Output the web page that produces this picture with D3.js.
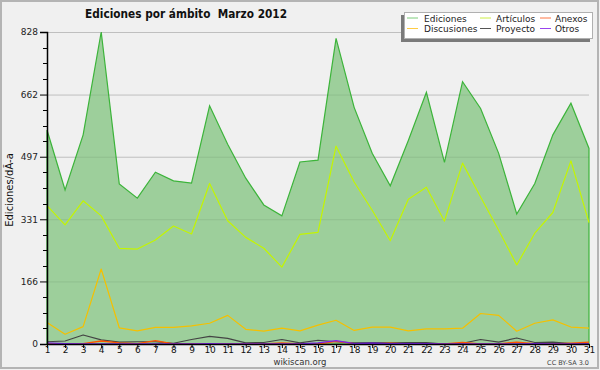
<!DOCTYPE html>
<html><head><meta charset="utf-8">
<script src="https://cdn.jsdelivr.net/npm/d3@7"></script>
<style>html,body{margin:0;padding:0;background:#f0f0f0;}svg{display:block;font-family:"DejaVu Sans",sans-serif;}</style>
</head><body>
<svg id="c" width="600" height="370"></svg>
<script>
const days = d3.range(1, 32);
const ediciones = [568,409,555,828,425,387,456,433,427,632,530,440,369,340,483,488,811,628,506,420,540,668,482,696,625,506,345,426,555,639,519];
const articulos = [367,316,380,340,254,252,276,313,292,426,327,283,254,204,291,296,525,430,355,274,384,416,326,480,390,302,210,294,349,486,322];
const discusiones = [57,26,46,199,43,35,44,44,48,55,76,39,34,42,35,50,63,36,45,45,35,40,40,42,81,76,34,55,64,45,42];
const proyecto = [6,8,24,11,5,6,6,2,12,20,15,3,4,12,3,10,6,3,4,3,4,4,0,2,12,5,16,4,5,1,1];
const anexos = [0,0,1,8,3,1,9,0,0,1,0,0,0,3,0,0,7,1,0,2,0,0,0,4,0,0,5,1,0,2,5];
const otros = [3,1,0,0,0,0,0,0,0,1,0,0,0,0,0,3,9,1,2,1,1,1,0,0,0,0,0,1,0,0,0];
const yTicks = [0,166,331,497,662,828];
const title = "Ediciones por ámbito  Marzo 2012";
const yLabel = "Ediciones/dÃ-a";
const legendNames = ["Ediciones","Artículos","Anexos","Discusiones","Proyecto","Otros"];
const legendColors = ["#7ccc7a","#ccee44","#ff7744","#ffcc44","#555555","#9944ee"];

const svg = d3.select("#c");
svg.append("rect").attr("x",1).attr("y",1).attr("width",597).attr("height",367)
  .attr("fill","#f0f0f0").attr("stroke","#b4b4b4").attr("stroke-width",2);

const x = d3.scaleLinear().domain([1,31]).range([47,589]);
const y = d3.scaleLinear().domain([0,828]).range([344,32]);

// grid
svg.append("g").selectAll("line").data(yTicks.slice(1)).join("line")
  .attr("x1",47).attr("x2",589).attr("y1",d=>y(d)+0.5).attr("y2",d=>y(d)+0.5)
  .attr("stroke","#cacaca").attr("stroke-width",1);

// area
const area = d3.area().x((d,i)=>x(days[i])).y0(y(0)).y1(d=>y(d));
svg.append("path").datum(ediciones).attr("d",area)
  .attr("fill","#8ec98c").attr("fill-opacity",0.85).attr("stroke","#3cb43a").attr("stroke-width",1.2);

// grid over area faint
svg.append("g").selectAll("line").data(yTicks.slice(1)).join("line")
  .attr("x1",47).attr("x2",589).attr("y1",d=>y(d)+0.5).attr("y2",d=>y(d)+0.5)
  .attr("stroke","#000").attr("stroke-opacity",0.05);

const line = d3.line().x((d,i)=>x(days[i])).y(d=>y(d));
const series = [
  [articulos,"#c4f500",1.2],
  [discusiones,"#f5c000",1.2],
  [proyecto,"#444444",1.2],
  [anexos,"#ff5500",1.4],
  [otros,"#7a22ee",1.4]
];
series.forEach(([data,col,w])=>{
  svg.append("path").datum(data).attr("d",line).attr("fill","none")
    .attr("stroke",col).attr("stroke-width",w).attr("stroke-linejoin","round");
});

// axes
const yAxis = d3.axisLeft(y).tickValues(yTicks).tickSize(7).tickPadding(2).tickFormat(d3.format("d"));
const gy = svg.append("g").attr("transform","translate(47,0)").call(yAxis);
const minor = [];
for (let i=0;i<yTicks.length-1;i++){ for(let k=1;k<4;k++){ minor.push(yTicks[i]+(yTicks[i+1]-yTicks[i])*k/4); } }
svg.append("g").selectAll("line").data(minor).join("line")
  .attr("x1",43).attr("x2",47).attr("y1",d=>Math.round(y(d))+0.5).attr("y2",d=>Math.round(y(d))+0.5)
  .attr("stroke","#000");
gy.select(".domain").attr("stroke","#000").attr("stroke-width",1.5);
gy.selectAll(".tick line").attr("stroke","#000");
gy.selectAll(".tick text").attr("font-size",9).attr("fill","#222").attr("font-family","DejaVu Sans");

const xAxis = d3.axisBottom(x).tickValues(days).tickSize(4).tickPadding(1).tickSizeOuter(0).tickFormat(d3.format("d"));
const gx = svg.append("g").attr("transform","translate(0,344)").call(xAxis);
gx.select(".domain").attr("stroke","#000").attr("stroke-width",1.5);
gx.selectAll(".tick line").attr("stroke","#000");
gx.selectAll(".tick text").attr("font-size",9).attr("fill","#111").attr("font-family","DejaVu Sans")
  .attr("y",2.8);

// title
svg.append("text").attr("x",186).attr("y",18).attr("text-anchor","middle")
  .style("white-space","pre").attr("xml:space","preserve")
  .attr("font-size",12.5).attr("font-weight","bold").attr("fill","#111")
  .attr("textLength",202).attr("lengthAdjust","spacingAndGlyphs").text(title);

// y label
svg.append("text").attr("transform","translate(13,190) rotate(-90)").attr("text-anchor","middle")
  .attr("font-size",10).attr("fill","#111").text(yLabel);

// legend
svg.append("rect").attr("x",401).attr("y",15).attr("width",189).attr("height",27).attr("fill","#7a7a7a");
svg.append("rect").attr("x",404.5).attr("y",12.5).attr("width",188).attr("height",26)
  .attr("fill","#ffffff").attr("stroke","#b0b0b0").attr("stroke-width",1);
const colX = [407,480,540];
const rowY = [21.5,32];
legendNames.forEach((n,i)=>{
  const c = i%3, r = Math.floor(i/3);
  svg.append("line").attr("x1",colX[c]).attr("x2",colX[c]+11).attr("y1",rowY[r]-3.5).attr("y2",rowY[r]-3.5)
    .attr("stroke",legendColors[i]).attr("stroke-width",1);
  svg.append("text").attr("x",colX[c]+(c===0?17:(c===1?16:15))).attr("y",rowY[r])
    .attr("font-size",9).attr("fill","#222").text(n);
});

// footer
svg.append("text").attr("x",300).attr("y",364.5).attr("text-anchor","middle")
  .attr("font-size",8.5).attr("fill","#333").text("wikiscan.org");
svg.append("text").attr("x",589).attr("y",365).attr("text-anchor","end")
  .attr("font-size",6.5).attr("fill","#444").text("CC BY-SA 3.0");
</script>
</body></html>
